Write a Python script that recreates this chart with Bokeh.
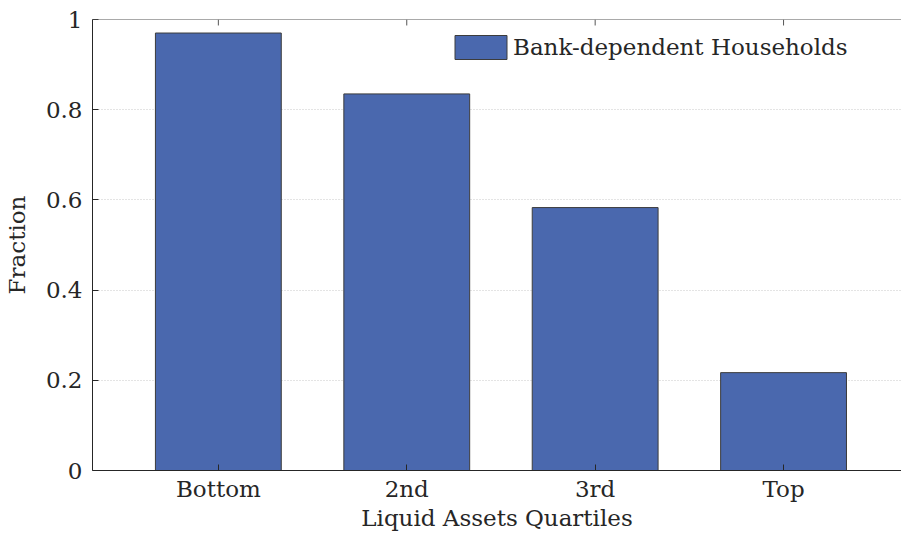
from bokeh.plotting import figure
from bokeh.models import (Range1d, FixedTicker, Legend, LegendItem, ColumnDataSource, Span)
from bokeh.embed import file_html
from bokeh.resources import INLINE

categories = ["Bottom", "2nd", "3rd", "Top"]
positions = [1, 2, 3, 4]
fractions = [0.970, 0.835, 0.583, 0.217]
y_ticks = [0, 0.2, 0.4, 0.6, 0.8, 1]
y_labels = ["0", "0.2", "0.4", "0.6", "0.8", "1"]
grid_ticks = [0.2, 0.4, 0.6, 0.8]
series_name = "Bank-dependent Households"
x_title = "Liquid Assets Quartiles"
y_title = "Fraction"

FONT = "DejaVu Serif"
FS = "23px"
AX = "#262626"

src = ColumnDataSource(dict(x=positions, top=fractions))

p = figure(width=901, height=533, output_backend="svg", toolbar_location=None,
           x_range=Range1d(0.332, 4.626), y_range=Range1d(0, 1),
           min_border_left=87, min_border_right=0, min_border_top=19, min_border_bottom=61)
p.outline_line_color = None
p.background_fill_color = "white"

p.xgrid.grid_line_color = None
p.ygrid.ticker = FixedTicker(ticks=grid_ticks)
p.ygrid.grid_line_color = "#c8c8c8"
p.ygrid.grid_line_dash = "1 2"
p.ygrid.grid_line_width = 1

r = p.vbar(x="x", top="top", width=0.668, source=src, fill_color="#4a68ae",
           line_color="#3c3c3c", line_width=1)

# top border with inward ticks
p.add_layout(Span(location=1, dimension="width", line_color="#555555", line_width=1))
tick_src = ColumnDataSource(dict(x=positions, y0=[1] * len(positions),
                                 y1=[1 - 6 / 453] * len(positions)))
p.segment(x0="x", y0="y0", x1="x", y1="y1", source=tick_src, line_color="#555555", line_width=1)

xa = p.xaxis[0]
xa.ticker = FixedTicker(ticks=positions)
xa.major_label_overrides = {pos: c for pos, c in zip(positions, categories)}
xa.axis_label = x_title
ya = p.yaxis[0]
ya.ticker = FixedTicker(ticks=y_ticks)
ya.major_label_overrides = {t: l for t, l in zip(y_ticks, y_labels)}
ya.axis_label = y_title
for ax in (xa, ya):
    ax.axis_line_color = AX
    ax.major_tick_line_color = AX
    ax.major_tick_in = 6
    ax.major_tick_out = 0
    ax.minor_tick_line_color = None
    ax.major_label_text_font = FONT
    ax.major_label_text_font_size = FS
    ax.major_label_text_color = "#262626"
    ax.axis_label_text_font = FONT
    ax.axis_label_text_font_size = FS
    ax.axis_label_text_font_style = "normal"
    ax.axis_label_text_color = "#262626"
xa.major_label_standoff = 5
xa.axis_label_standoff = 0
ya.major_label_standoff = 10
ya.axis_label_standoff = 13

legend = Legend(items=[LegendItem(label=series_name, renderers=[r])],
                location=(356, 408), padding=0, margin=0, spacing=0,
                glyph_width=65, glyph_height=30, label_height=30, label_standoff=0,
                label_text_font=FONT, label_text_font_size=FS, label_text_color="#262626",
                border_line_color=None, background_fill_alpha=0)
p.add_layout(legend, "center")

open("out.html", "w").write(file_html(p, INLINE))
